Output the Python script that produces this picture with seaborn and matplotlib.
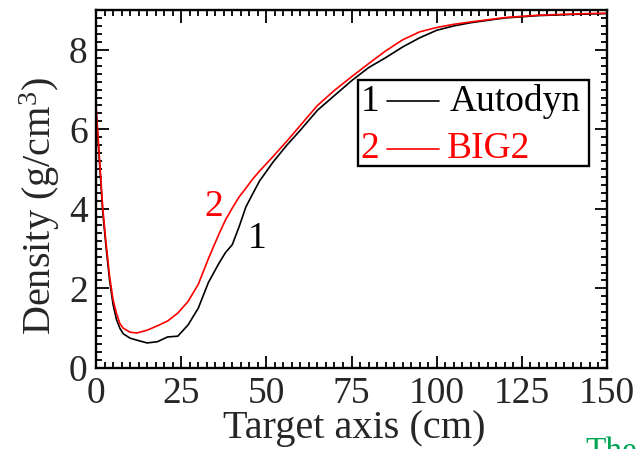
import numpy as np
import pandas as pd
import seaborn as sns
import matplotlib
matplotlib.use("Agg")
import matplotlib.pyplot as plt
from matplotlib.ticker import MultipleLocator
from matplotlib.lines import Line2D
from matplotlib.patches import Rectangle

# Density profile along the target axis
position_cm = [0, 1, 2, 3, 4, 5, 6, 7, 8, 10, 12, 15, 18, 21, 24, 27, 30, 33,
               36, 38, 40, 42, 44, 46, 48, 52, 56, 60, 65, 70, 75, 80, 85, 90,
               95, 100, 105, 110, 120, 130, 140, 150]
autodyn = [6.5, 5.2, 3.9, 3.0, 2.2, 1.6, 1.22, 1.0, 0.86, 0.75, 0.70, 0.63,
           0.66, 0.78, 0.80, 1.08, 1.5, 2.15, 2.62, 2.9, 3.1, 3.55, 4.05, 4.38,
           4.7, 5.18, 5.6, 5.98, 6.48, 6.85, 7.22, 7.55, 7.8, 8.07, 8.3, 8.49,
           8.6, 8.68, 8.8, 8.86, 8.89, 8.91]
big2 = [6.6, 5.3, 4.0, 3.1, 2.3, 1.72, 1.38, 1.12, 1.0, 0.9, 0.88, 0.95,
        1.06, 1.18, 1.38, 1.67, 2.1, 2.75, 3.35, 3.72, 4.02, 4.3, 4.52, 4.75,
        4.95, 5.32, 5.7, 6.1, 6.6, 6.98, 7.32, 7.65, 7.97, 8.25, 8.45, 8.56,
        8.64, 8.7, 8.81, 8.87, 8.9, 8.92]
series_names = ["Autodyn", "BIG2"]
series_ids = ["1", "2"]
series_colors = ["black", "#ff0000"]

df = pd.DataFrame({
    "x": position_cm * 2,
    "density": autodyn + big2,
    "code": [series_names[0]] * len(position_cm) + [series_names[1]] * len(position_cm),
})

sns.set_theme(style="white")
plt.rcParams["font.family"] = ["Liberation Serif", "DejaVu Serif"]
plt.rcParams["mathtext.fontset"] = "custom"
plt.rcParams["mathtext.rm"] = "Liberation Serif"
plt.rcParams["mathtext.it"] = "Liberation Serif:italic"

fig = plt.figure(figsize=(6.39, 4.49), dpi=100)
ax = fig.add_axes([96 / 639, 1 - 368 / 449, 511 / 639, 358 / 449])

sns.lineplot(data=df, x="x", y="density", hue="code", palette=series_colors,
             hue_order=series_names, linewidth=1.2, legend=False, ax=ax)

ax.set_xlim(0, 150)
ax.set_ylim(0, 9)
ax.xaxis.set_major_locator(MultipleLocator(25))
ax.xaxis.set_minor_locator(MultipleLocator(2.5))
ax.yaxis.set_major_locator(MultipleLocator(2))
ax.yaxis.set_minor_locator(MultipleLocator(0.2))
ax.tick_params(which="both", direction="in", top=True, right=True,
               bottom=True, left=True, color="black", width=1.3)
ax.tick_params(which="major", length=9, labelsize=27, pad=6)
ax.tick_params(which="minor", length=4.5)
for s in ax.spines.values():
    s.set_color("black")
    s.set_linewidth(1.7)

ax.set_xlabel("Target axis (cm)", fontsize=29)
ax.set_ylabel(r"Density (g/cm$^3$)", fontsize=29)
ax.xaxis.set_label_coords(0.505, -0.168)
ax.yaxis.set_label_coords(-0.11, 0.452)
ax.xaxis.label.set_va("center")
ax.yaxis.label.set_va("center")

# Curve identifiers
ax.text(34.7, 4.06, series_ids[1], color=series_colors[1], fontsize=27,
        ha="center", va="center")
ax.text(47.2, 3.26, series_ids[0], color=series_colors[0], fontsize=27,
        ha="center", va="center")

# Boxed key
ax.add_patch(Rectangle((0.513, 0.564), 0.452, 0.240, transform=ax.transAxes,
                       fill=True, facecolor="white", edgecolor="black",
                       linewidth=1.7, zorder=5))
for yrow, sid, name, col, xt in [(0.745, series_ids[0], series_names[0], series_colors[0], 0.693),
                                 (0.613, series_ids[1], series_names[1], series_colors[1], 0.687)]:
    ax.text(0.536, yrow, sid, color=col, fontsize=27, ha="center", va="center",
            transform=ax.transAxes, zorder=6)
    ax.add_line(Line2D([0.569, 0.671], [yrow, yrow], color=col, linewidth=1.2,
                       transform=ax.transAxes, zorder=6))
    ax.text(xt, yrow, name, color=col, fontsize=27, ha="left", va="center",
            transform=ax.transAxes, zorder=6)

fig.text(585 / 639, 1 - 436 / 449, "The", color="#00a651", fontsize=24,
         ha="left", va="top")

fig.savefig("out.png", dpi=100)
